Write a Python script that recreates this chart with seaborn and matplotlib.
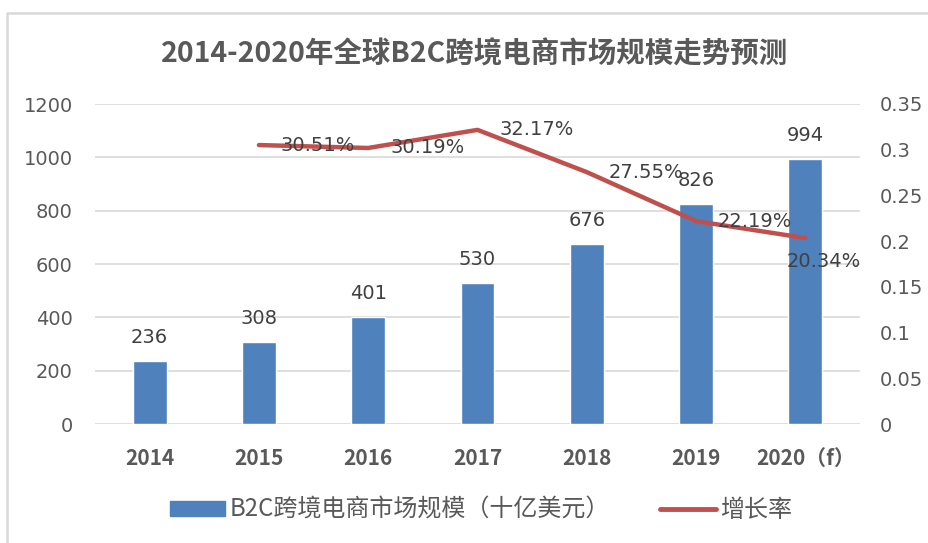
import matplotlib
matplotlib.use("Agg")
import matplotlib.pyplot as plt
import seaborn as sns
import numpy as np
from matplotlib.patches import Patch
from matplotlib.lines import Line2D
from matplotlib.ticker import FuncFormatter, MultipleLocator

sns.set_theme(style="white")
plt.rcParams['font.family'] = ['Noto Sans CJK SC', 'DejaVu Sans']

# ---- data ----
years = ["2014", "2015", "2016", "2017", "2018", "2019", "2020（f）"]
market_size = [236, 308, 401, 530, 676, 826, 994]
growth_years = ["2015", "2016", "2017", "2018", "2019", "2020（f）"]
growth_rate = [0.3051, 0.3019, 0.3217, 0.2755, 0.2219, 0.2034]
growth_labels = ["30.51%", "30.19%", "32.17%", "27.55%", "22.19%", "20.34%"]
title = "2014-2020年全球B2C跨境电商市场规模走势预测"
bar_name = "B2C跨境电商市场规模（十亿美元）"
line_name = "增长率"

BAR_C = "#4F81BD"
LINE_C = "#C0504D"
TXT = "#595959"
LBL = "#404040"
GRID = "#D9D9D9"

W, H = 929, 543
fig = plt.figure(figsize=(W / 100, H / 100), dpi=100)
fig.patch.set_facecolor("white")
ax = fig.add_axes([95 / W, 1 - 424 / H, (860 - 95) / W, (424 - 104) / H])

sns.barplot(x=years, y=market_size, color=BAR_C, saturation=1, width=0.31,
            ax=ax, zorder=2)
ax.set_ylim(0, 1200)
ax.yaxis.set_major_locator(MultipleLocator(200))
ax.set_xlim(-0.5, len(years) - 0.5)
ax.grid(axis="y", color=GRID, linewidth=1.2, zorder=0)
ax.set_axisbelow(True)
for s in ax.spines.values():
    s.set_visible(False)
ax.set_xlabel("")
ax.set_ylabel("")
ax.tick_params(axis="y", length=0, pad=16, labelsize=14, labelcolor=TXT)
ax.tick_params(axis="x", length=0, pad=17, labelsize=15, labelcolor=TXT)
for t in ax.get_yticklabels():
    t.set_family("DejaVu Sans")
for t in ax.get_xticklabels():
    t.set_fontweight("bold")

ax.bar_label(ax.containers[0], labels=[str(v) for v in market_size],
             padding=10, fontsize=14, color=LBL, family="DejaVu Sans")

ax2 = ax.twinx()
pos = [years.index(y) for y in growth_years]
sns.lineplot(x=pos, y=growth_rate, color=LINE_C, linewidth=3.2, ax=ax2,
             zorder=3)
ax2.set_ylim(0, 0.35)
ax2.set_xlim(-0.5, len(years) - 0.5)
ax2.yaxis.set_major_locator(MultipleLocator(0.05))
ax2.yaxis.set_major_formatter(FuncFormatter(lambda v, p: f"{v:g}"))
for s in ax2.spines.values():
    s.set_visible(False)
ax2.set_xlabel("")
ax2.set_ylabel("")
ax2.tick_params(axis="y", length=0, pad=14, labelsize=14, labelcolor=TXT)
for t in ax2.get_yticklabels():
    t.set_family("DejaVu Sans")
ax2.grid(False)

for i, (x, y, lab) in enumerate(zip(pos, growth_rate, growth_labels)):
    if i == len(pos) - 1:
        off, ha, va = (18, -23), "center", "center"
    else:
        off, ha, va = (22, 0), "left", "center"
    ax2.annotate(lab, (x, y), xytext=off, textcoords="offset pixels",
                 ha=ha, va=va, fontsize=14, color=LBL, family="DejaVu Sans",
                 zorder=4)

fig.text(475 / W, 1 - 54 / H, title, ha="center", va="center",
         fontsize=20.5, fontweight="bold", color=TXT)

handles = [Patch(facecolor=BAR_C, edgecolor=BAR_C),
           Line2D([0], [0], color=LINE_C, linewidth=3.5, solid_capstyle="round")]
leg = fig.legend(handles, [bar_name, line_name], loc="center",
                 bbox_to_anchor=(481 / W, 1 - 510 / H), ncol=2, frameon=False,
                 fontsize=17.3, handlelength=2.3, handleheight=0.55,
                 handletextpad=0.2, columnspacing=2.1, labelcolor=TXT)

# frame border (top and left edges visible in the reference)
fig.add_artist(Line2D([7 / W, 7 / W, 1.0], [0.0, 1 - 13 / H, 1 - 13 / H],
                      transform=fig.transFigure, color=GRID, linewidth=1.8))

fig.savefig("out.png", dpi=100, facecolor="white")
